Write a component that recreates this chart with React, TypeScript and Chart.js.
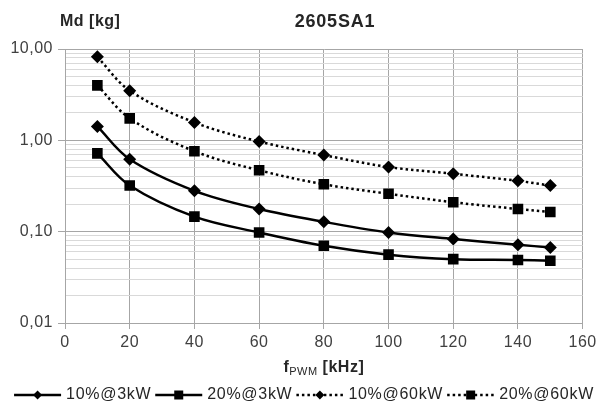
import { useEffect, useRef } from "react";
import { Chart, registerables } from "chart.js";

Chart.register(...registerables);

const xValues = [10, 20, 40, 60, 80, 100, 120, 140, 150];
const s10at3kW = [1.42, 0.62, 0.28, 0.177, 0.128, 0.098, 0.083, 0.072, 0.067];
const s20at3kW = [0.72, 0.32, 0.146, 0.098, 0.07, 0.056, 0.05, 0.049, 0.048];
const s10at60kW = [8.2, 3.5, 1.57, 0.97, 0.69, 0.51, 0.43, 0.36, 0.32];
const s20at60kW = [4.0, 1.74, 0.76, 0.47, 0.33, 0.26, 0.21, 0.177, 0.164];
const seriesLabels = ["10%@3kW", "20%@3kW", "10%@60kW", "20%@60kW"];
const yDecades = [0.01, 0.1, 1, 10];
const yTickLabels = ["0,01", "0,10", "1,00", "10,00"];
const yMinorMultipliers = [1, 2, 3, 4, 5, 6, 7, 8, 9];
const chartTitle = "2605SA1";
const yTitle = "Md [kg]";
const xTitleMain = "f";
const xTitleSub = "PWM";
const xTitleUnit = " [kHz]";

const FONT = "'Liberation Sans', Arial, sans-serif";

export default function App() {
  const ref = useRef<HTMLCanvasElement | null>(null);

  useEffect(() => {
    document.body.style.margin = "0";
    const canvas = ref.current;
    if (!canvas) return;

    const dashed = (i: number) => i >= 2;
    const seriesData = [s10at3kW, s20at3kW, s10at60kW, s20at60kW];

    const datasets = seriesData.map((vals, i) => ({
      label: seriesLabels[i],
      data: vals.map((v, j) => ({ x: xValues[j], y: v })),
      borderColor: "#000",
      backgroundColor: "#000",
      borderWidth: 2.5,
      borderDash: dashed(i) ? [2.5, 3] : [],
      pointStyle: i % 2 === 0 ? "rectRot" : "rect",
      pointRadius: i % 2 === 0 ? 6.5 : 7.5,
      pointBorderWidth: 0,
      pointBackgroundColor: "#000",
      tension: 0.35,
      fill: false,
    }));

    const spacing = {
      id: "spacing",
      beforeDraw(chart: any) {
        (chart.ctx as any).letterSpacing = "0.5px";
      },
    };

    const overlay = {
      id: "overlay",
      afterDraw(chart: any) {
        const ctx = chart.ctx as any;
        const area = chart.chartArea;
        ctx.save();
        ctx.fillStyle = "#262626";
        ctx.textBaseline = "middle";
        // Title
        ctx.letterSpacing = "0.8px";
        ctx.font = `bold 18px ${FONT}`;
        ctx.textAlign = "center";
        ctx.fillText(chartTitle, 335, 22);
        // Y title
        ctx.letterSpacing = "0.5px";
        ctx.font = `bold 16px ${FONT}`;
        ctx.textAlign = "left";
        ctx.fillText(yTitle, 60, 22);
        // X title
        const cx = (area.left + area.right) / 2;
        const yT = 368;
        ctx.font = `bold 16px ${FONT}`;
        const wMain = ctx.measureText(xTitleMain).width;
        const wUnit = ctx.measureText(xTitleUnit).width;
        ctx.font = `11px ${FONT}`;
        const wSub = ctx.measureText(xTitleSub).width;
        let x = cx - (wMain + wSub + wUnit) / 2;
        ctx.font = `bold 16px ${FONT}`;
        ctx.fillText(xTitleMain, x, yT);
        x += wMain;
        ctx.font = `11px ${FONT}`;
        ctx.fillText(xTitleSub, x, yT + 4);
        x += wSub;
        ctx.font = `bold 16px ${FONT}`;
        ctx.fillText(xTitleUnit, x, yT);

        // Legend
        const ly = 395;
        const lineLen = 47;
        ctx.letterSpacing = "0.7px";
        ctx.font = `16px ${FONT}`;
        const widths = seriesLabels.map((l: string) => ctx.measureText(l).width);
        const gapText = 5;
        const gapItem = 4;
        let total = 0;
        widths.forEach((w: number, i: number) => {
          total += lineLen + gapText + w + (i < widths.length - 1 ? gapItem : 0);
        });
        let lx = 304 - total / 2;
        seriesLabels.forEach((label, i) => {
          ctx.save();
          ctx.strokeStyle = "#000";
          ctx.lineWidth = 2.5;
          ctx.setLineDash(dashed(i) ? [2.5, 3] : []);
          ctx.beginPath();
          ctx.moveTo(lx, ly);
          ctx.lineTo(lx + lineLen, ly);
          ctx.stroke();
          ctx.restore();
          const mx = lx + lineLen / 2;
          ctx.fillStyle = "#000";
          ctx.beginPath();
          if (i % 2 === 0) {
            const r = 4.5;
            ctx.moveTo(mx, ly - r);
            ctx.lineTo(mx + r, ly);
            ctx.lineTo(mx, ly + r);
            ctx.lineTo(mx - r, ly);
            ctx.closePath();
          } else {
            const s = 4.5;
            ctx.rect(mx - s, ly - s, 2 * s, 2 * s);
          }
          ctx.fill();
          ctx.fillStyle = "#262626";
          ctx.textAlign = "left";
          ctx.fillText(label, lx + lineLen + gapText, ly);
          lx += lineLen + gapText + widths[i] + gapItem;
        });
        ctx.restore();
      },
    };

    const isDecade = (v: number) => yDecades.some((d) => Math.abs(v - d) / d < 1e-6);

    const chart = new Chart(canvas, {
      type: "line",
      data: { datasets: datasets as any },
      options: {
        animation: false,
        responsive: false,
        layout: { padding: { top: 49, left: 0, right: 14, bottom: 0 } },
        plugins: {
          legend: { display: false },
          title: { display: false },
          tooltip: { enabled: false },
        },
        scales: {
          x: {
            type: "linear",
            min: 0,
            max: 160,
            ticks: {
              stepSize: 20,
              color: "#404040",
              font: { size: 16, family: FONT },
              padding: 4,
              maxRotation: 0,
            },
            grid: { color: "#a6a6a6", lineWidth: 1, tickLength: 6, tickColor: "#a6a6a6" },
            border: { color: "#a6a6a6" },
            afterFit: (scale: any) => {
              scale.height = 82;
            },
          },
          y: {
            type: "logarithmic",
            min: 0.01,
            max: 10,
            afterBuildTicks: (scale: any) => {
              const t: { value: number }[] = [];
              for (let d = 0; d < yDecades.length - 1; d++) {
                for (const m of yMinorMultipliers) {
                  t.push({ value: Number((m * yDecades[d]).toPrecision(6)) });
                }
              }
              t.push({ value: yDecades[yDecades.length - 1] });
              scale.ticks = t;
            },
            ticks: {
              autoSkip: false,
              color: "#404040",
              font: { size: 16, family: FONT },
              padding: 5,
              callback: (v: any) => {
                const val = Number(v);
                const idx = yDecades.findIndex((d) => Math.abs(val - d) / d < 1e-6);
                return idx >= 0 ? yTickLabels[idx] : "";
              },
            },
            grid: {
              color: (c: any) => (c.tick && isDecade(c.tick.value) ? "#a6a6a6" : "#d9d9d9"),
              tickColor: (c: any) => (c.tick && isDecade(c.tick.value) ? "#a6a6a6" : "rgba(0,0,0,0)"),
              tickLength: 7,
              lineWidth: 1,
            },
            border: { color: "#a6a6a6" },
            afterFit: (scale: any) => {
              scale.width = 65;
            },
          },
        },
      },
      plugins: [spacing, overlay],
    });

    return () => chart.destroy();
  }, []);

  return (
    <div style={{ width: 600, height: 405 }}>
      <canvas ref={ref} width={600} height={405} style={{ display: "block" }} />
    </div>
  );
}
